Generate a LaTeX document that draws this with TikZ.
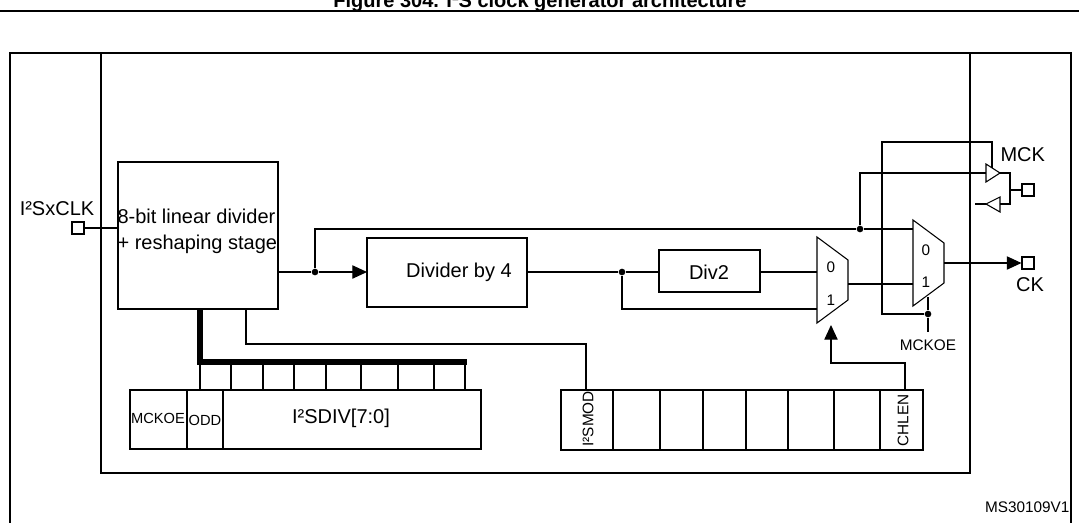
\documentclass[tikz,border=0pt]{standalone}
\usepackage{fontspec}
\setmainfont{Liberation Sans}
\usetikzlibrary{arrows.meta,positioning}
\tikzset{
  pad/.style={draw,thick,minimum size=9pt,inner sep=0pt},
  dot/.style={circle,fill,inner sep=0pt,minimum size=5pt},
  lbl/.style={inner sep=0pt,font=\fontsize{15}{17}\selectfont},
  sml/.style={inner sep=0pt,font=\fontsize{11.5}{13}\selectfont},
  fat/.style={-{Triangle[length=11pt,width=10pt]}}
}
\begin{document}
\begin{tikzpicture}[x=0.75pt,y=-0.75pt,thick]
  \useasboundingbox (0,0) rectangle (1079,522);
  % frame and title
  \node[font=\bfseries\fontsize{15}{17}\selectfont,anchor=base] (title) at (540,7) {Figure 304. I²S clock generator architecture};
  \draw[line width=1.4pt] (0,11) -- (1079,11);
  \draw (10,53) rectangle (1071,540);
  \draw (101,53) rectangle (970,473);
  \node[sml,anchor=base east] (ms) at (1070,512) {MS30109V1};
  % input and main blocks
  \node[pad] (clk) at (78,228) {};
  \node[lbl,anchor=base] at (57,215) {I²SxCLK};
  \path (118,162) coordinate (linNW) (278,309) coordinate (linSE);
  \draw (linNW) rectangle (linSE);
  \node[lbl,anchor=base west] (lintxt) at (117,223) {8-bit linear divider};
  \node[lbl,anchor=base west] at (117,249) {+ reshaping stage};
  \draw (clk.east) -- (118,228);
  \path (367,238) coordinate (d4NW) (527,307) coordinate (d4SE);
  \draw (d4NW) rectangle (d4SE);
  \node[lbl] (div4) at (459,272) {Divider by 4};
  \path (659,250) coordinate (d2NW) (760,292) coordinate (d2SE);
  \draw (d2NW) rectangle (d2SE);
  \node[lbl] (div2) at (709,272) {Div2};
  % muxes
  \draw (817,237) -- (848,260) -- (848,300) -- (817,323) -- cycle;
  \node[sml] at (831,267) {0}; \node[sml] at (831,300) {1};
  \draw (913,220) -- (944,243) -- (944,283) -- (913,306) -- cycle;
  \node[sml] at (926,250) {0}; \node[sml] at (926,282) {1};
  % signal paths
  \node[dot] (j1) at (315,272) {};
  \node[dot] (j2) at (622,272) {};
  \node[dot] (j3) at (860,229) {};
  \node[dot] (j4) at (928,314) {};
  \draw (278,272) -- (j1);
  \draw[fat] (j1) -- (367,272);
  \draw (j1) |- (j3) -- (913,229);
  \draw (527,272) -- (j2) -- (659,272);
  \draw (760,272) -- (817,272);
  \draw (j2) |- (817,309);
  \draw (848,284) -- (913,284);
  \node[pad] (ck) at (1028,263) {};
  \draw[fat] (944,263) -- (ck.west);
  \node[lbl,anchor=base] at (1030,291) {CK};
  % MCK buffers
  \draw (986,164) -- (1000,173) -- (986,182) -- cycle;
  \draw (1000,197) -- (986,204) -- (1000,212) -- cycle;
  \draw (j3) |- (986,173);
  \draw (j4) -| (882,142) -| (992,168);
  \node[pad] (mck) at (1028,190) {};
  \draw (1000,173) -- (1010,173) |- (1000,204);
  \draw (1010,190) -- (mck.west);
  \draw (986,204) -- (975,204);
  \node[lbl,anchor=base west] at (1000,161) {MCK};
  \draw (928,297) -- (j4) -- (928,332);
  \node[sml,anchor=base] (mckoe) at (928,350) {MCKOE};
  % register 1
  \draw (130,390) rectangle (481,449);
  \draw (187,390) -- (187,449) (223,390) -- (223,449);
  \node[sml,font=\fontsize{11}{12}\selectfont] at (158,418) {MCKOE};
  \node[sml,font=\fontsize{11}{12}\selectfont] at (205,420) {ODD};
  \node[lbl] (div) at (341,418) {I²SDIV[7:0]};
  \foreach \x in {200,231,263,294,326,361,398,434,465}
    \draw (\x,362) -- (\x,390);
  \draw[line width=4pt] (200,309) -- (200,362) -- (467,362);
  % register 2
  \draw (561,390) rectangle (923,450);
  \foreach \x in {613,660,703,746,788,834,880}
    \draw (\x,390) -- (\x,450);
  \node[sml,rotate=90,anchor=west] (mod) at (588,447) {I²SMOD};
  \node[sml,rotate=90,anchor=west] (chlen) at (903,447) {CHLEN};
  \draw (246,309) |- (586,344) -- (586,390);
  \draw[fat] (905,390) |- (831,363) -- (831,325);
\end{tikzpicture}
\end{document}
